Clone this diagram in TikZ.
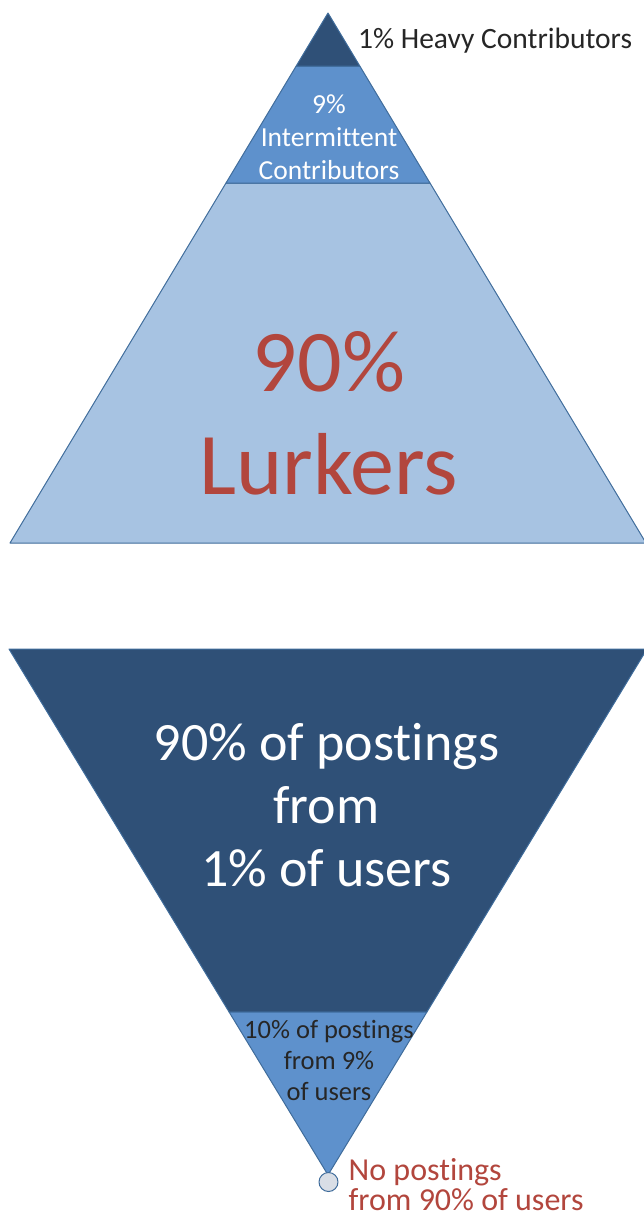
\documentclass[tikz,border=0pt]{standalone}
\usepackage{fontspec}
\setmainfont{Carlito}[Ligatures=NoCommon]
\usepackage{tikz}

\definecolor{darkblue}{HTML}{2F5077}
\definecolor{midblue}{HTML}{5E91CC}
\definecolor{paleblue}{HTML}{A7C3E2}
\definecolor{edgeblue}{HTML}{3F6C9B}
\definecolor{lurkred}{HTML}{B2463D}
\definecolor{dotgrey}{HTML}{D9DEE6}

\begin{document}
\begin{tikzpicture}[x=10pt,y=10pt]
\tikzstyle{every node}+=[inner sep=0pt]
\tikzstyle{band}=[draw=edgeblue, line width=1pt, line join=round]
\useasboundingbox (0,0) rectangle (64.3,-121.9);
% upper pyramid
\draw [band, fill=paleblue] (1.0,-54.3) -- (22.6,-18.3) -- (43.0,-18.3) -- (64.6,-54.3) -- cycle;
\draw [band, fill=midblue] (22.6,-18.3) -- (29.62,-6.6) -- (35.98,-6.6) -- (43.0,-18.3) -- cycle;
\draw [band, fill=darkblue] (29.62,-6.6) -- (32.8,-1.3) -- (35.98,-6.6) -- cycle;
\node (heavy) [anchor=base west, font=\fontsize{29.5}{35}\selectfont, text=black!85] at (35.8,-4.8) {1\% Heavy Contributors};
\node (inter) [align=center, text=white, font=\fontsize{27.5}{33}\selectfont] at (32.9,-13.75) {9\%\\Intermittent\\Contributors};
\node (lurk) [align=center, text=lurkred, font=\fontsize{88}{103}\selectfont] at (32.9,-41.3) {90\%\\Lurkers};
% lower funnel
\draw [band, fill=darkblue] (0.9,-64.9) -- (64.7,-64.9) -- (42.69,-101.2) -- (22.91,-101.2) -- cycle;
\draw [band, fill=midblue] (22.91,-101.2) -- (42.69,-101.2) -- (32.8,-117.5) -- cycle;
\draw [band, fill=dotgrey] (32.85,-118.2) circle (0.95);
\node (most) [align=center, text=white, font=\fontsize{54}{63}\selectfont] at (32.65,-80.5) {90\% of postings\\from\\1\% of users};
\node (some) [align=center, text=black!85, font=\fontsize{26.5}{31}\selectfont] at (32.9,-106.05) {10\% of postings\\from 9\%\\of users};
\node (none) [align=left, anchor=west, text=lurkred, font=\fontsize{32}{30}\selectfont] at (34.85,-118.5) {No postings\\from 90\% of users};
\end{tikzpicture}
\end{document}
